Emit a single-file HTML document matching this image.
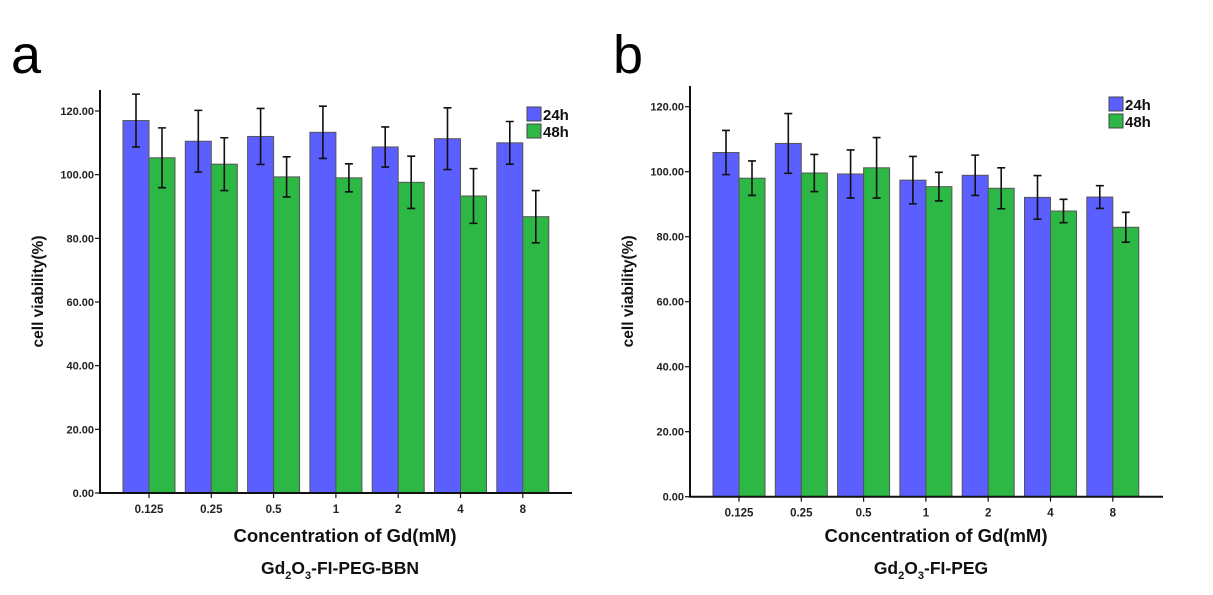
<!DOCTYPE html>
<html><head><meta charset="utf-8"><style>
body{margin:0;background:#fff;}
svg{display:block;font-family:"Liberation Sans",Arial,sans-serif;}
</style></head><body>
<svg id="chart" width="1213" height="595" viewBox="0 0 1213 595"></svg>
<script>
const categories=["0.125","0.25","0.5","1","2","4","8"];
const yTicks=[0,20,40,60,80,100,120];
const aMean24=[117,110.5,112,113.3,108.7,111.3,110];
const aErr24=[8.3,9.7,8.8,8.2,6.3,9.7,6.7];
const aMean48=[105.3,103.3,99.3,99,97.6,93.3,86.8];
const aErr48=[9.4,8.3,6.3,4.4,8.2,8.6,8.2];
const bMean24=[105.9,108.7,99.3,97.4,98.9,92.1,92.2];
const bErr24=[6.8,9.2,7.4,7.3,6.2,6.7,3.5];
const bMean48=[98,99.6,101.2,95.4,94.9,87.9,82.9];
const bErr48=[5.3,5.7,9.3,4.4,6.3,3.6,4.6];
const seriesNames=["24h","48h"];

const NS="http://www.w3.org/2000/svg";
const svg=document.getElementById('chart');
function mk(tag,attrs,parent,text){const e=document.createElementNS(NS,tag);for(const k in attrs)e.setAttribute(k,attrs[k]);if(text!==undefined)e.textContent=text;(parent||svg).appendChild(e);return e;}

function panel(cfg){
  const g=mk('g',{});
  
  
  const y=v=>cfg.y0-(cfg.y0-cfg.y120)*v/120;
  const x=i=>cfg.x0+i*cfg.step;
  const bw=26;
  const colors=["#5b5fff","#2db744"];
  const means=[cfg.m24,cfg.m48], errs=[cfg.e24,cfg.e48];
  categories.forEach((c,i)=>{
    for(let s=0;s<2;s++){
      const bx=s===0?x(i)-bw:x(i);
      const r=mk('rect',{x:bx,y:y(means[s][i]),width:bw,height:y(0)-y(means[s][i]),fill:colors[s],stroke:"#555","stroke-width":1},g);
      
      
      const cx=bx+bw/2, t=y(means[s][i]+errs[s][i]), b=y(means[s][i]-errs[s][i]);
      const e=mk('path',{d:`M${cx},${t}V${b}M${cx-4},${t}H${cx+4}M${cx-4},${b}H${cx+4}`,stroke:"#111","stroke-width":1.6,fill:"none"},g);
      
      
    }
    mk('line',{x1:x(i),x2:x(i),y1:y(0),y2:y(0)+5,stroke:"#111","stroke-width":1.2},g);
    const tl=mk('text',{x:x(i),y:y(0)+20,"text-anchor":"middle","font-size":11.5,"font-weight":"bold",fill:"#222"},g,c);
    
    
  });
  yTicks.forEach(v=>{
    mk('line',{x1:cfg.ax-5,x2:cfg.ax,y1:y(v),y2:y(v),stroke:"#111","stroke-width":1.2},g);
    const t=mk('text',{x:cfg.ax-6,y:y(v)+4,"text-anchor":"end","font-size":11,"font-weight":"bold",fill:"#222"},g,v.toFixed(2));
    
    
  });
  const ax=mk('path',{d:`M${cfg.ax},${cfg.top}V${y(0)}H${cfg.axEnd}`,stroke:"#111","stroke-width":2,fill:"none"},g);
  
  
  const yt=mk('text',{transform:`translate(${cfg.ax-57},${(cfg.top+y(0))/2}) rotate(-90)`,"text-anchor":"middle","font-size":15.5,"font-weight":"bold",fill:"#111"},g,"cell viability(%)");
  
  
  const xt=mk('text',{x:cfg.titleX,y:542,"text-anchor":"middle","font-size":18.5,"font-weight":"bold",fill:"#111"},g,"Concentration of Gd(mM)");
  
  
  const st=mk('text',{x:cfg.titleX-5,y:574,"text-anchor":"middle","font-size":17.5,"font-weight":"bold",fill:"#111"},g);
  
  
  const parts=[["Gd",0],["2",1],["O",0],["3",1],[cfg.suffix,0]];
  parts.forEach(p=>{const ts=mk('tspan',p[1]?{"font-size":11,dy:5}:{dy:0},st,p[0]);if(!p[1]&&p[0]!=="Gd")ts.setAttribute('dy',-5);});
  const lab=mk('text',{x:cfg.letterX,y:73,"font-size":54,fill:"#000"},g,cfg.letter);
  
  
  seriesNames.forEach((n,s)=>{
    const lg=mk('g',{},g);
    
    
    mk('rect',{x:cfg.legX,y:cfg.legY+s*17,width:14,height:14,fill:colors[s],stroke:"#444"},lg);
    mk('text',{x:cfg.legX+16,y:cfg.legY+s*17+13,"font-size":15,"font-weight":"bold",fill:"#111"},lg,n);
  });
}
panel({name:'panel-a',x0:149,step:62.3,y0:493,y120:111,ax:100,axEnd:572,top:90,m24:aMean24,e24:aErr24,m48:aMean48,e48:aErr48,titleX:345,suffix:"-FI-PEG-BBN",letter:"a",letterX:11,legX:527,legY:107});
panel({name:'panel-b',x0:739,step:62.3,y0:496.7,y120:106.7,ax:690,axEnd:1163,top:86,m24:bMean24,e24:bErr24,m48:bMean48,e48:bErr48,titleX:936,suffix:"-FI-PEG",letter:"b",letterX:613,legX:1109,legY:97});
</script>
</body></html>
